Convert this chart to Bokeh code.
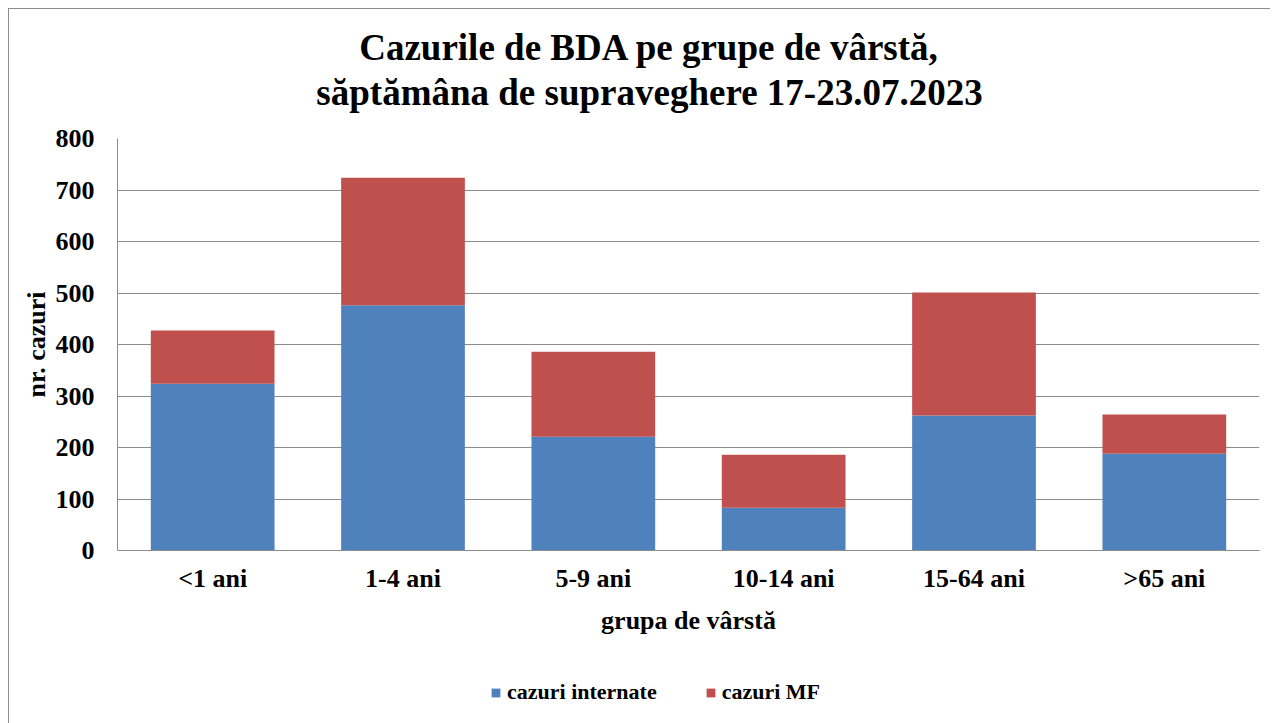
from bokeh.plotting import figure
from bokeh.models import Label, Legend, LegendItem, ColumnDataSource, FactorRange, FixedTicker, Range1d
from bokeh.layouts import column
from bokeh.embed import file_html
from bokeh.resources import INLINE

categories = ["<1 ani", "1-4 ani", "5-9 ani", "10-14 ani", "15-64 ani", ">65 ani"]
cazuri_internate = [324, 476, 221, 83, 262, 188]
cazuri_mf = [103, 248, 165, 103, 239, 76]
y_ticks = [0, 100, 200, 300, 400, 500, 600, 700, 800]
series_names = ["cazuri internate", "cazuri MF"]
colors = ["#4F81BD", "#C0504D"]
title_lines = ["Cazurile de BDA pe grupe de vârstă,", "săptămâna de supraveghere 17-23.07.2023"]

FONT = "Liberation Serif"
GRID = "#8c8c8c"
W = 1261

# ---- title strip ----
p0 = figure(width=W, height=111, x_range=Range1d(0, 1), y_range=Range1d(0, 1),
            min_border=0, x_axis_location=None, y_axis_location=None,
            output_backend="svg", toolbar_location=None)
p0.grid.grid_line_color = None
p0.outline_line_color = None
for txt, ypos in zip(title_lines, [73, 28]):
    p0.add_layout(Label(x=532, y=ypos, x_units="screen", y_units="screen", text=txt,
                        text_align="center", text_baseline="middle",
                        text_font=FONT, text_font_size="37px", text_font_style="bold",
                        text_color="#000000"))

# ---- chart ----
src = ColumnDataSource(dict(cat=categories, internate=cazuri_internate, mf=cazuri_mf))

p = figure(
    x_range=FactorRange(*categories), y_range=(0, 800),
    frame_width=1142, frame_height=412,
    min_border_left=108, min_border_right=11, min_border_top=18, min_border_bottom=95,
    output_backend="svg", toolbar_location=None,
)
p.vbar_stack(["internate", "mf"], x="cat", width=0.65, color=colors,
             line_color=None, source=src)

p.yaxis.ticker = FixedTicker(ticks=y_ticks)
p.yaxis.axis_label = "nr. cazuri"
p.xaxis.axis_label = "grupa de vârstă"
for ax in (p.xaxis[0], p.yaxis[0]):
    ax.axis_line_color = GRID
    ax.axis_line_width = 1
    ax.major_tick_line_color = None
    ax.minor_tick_line_color = None
    ax.major_tick_out = 0
    ax.major_tick_in = 0
    ax.major_label_text_font = FONT
    ax.major_label_text_font_size = "26px"
    ax.major_label_text_font_style = "bold"
    ax.major_label_text_color = "#000000"
    ax.axis_label_text_font = FONT
    ax.axis_label_text_font_size = "26px"
    ax.axis_label_text_font_style = "bold"
    ax.axis_label_text_color = "#000000"
p.yaxis.major_label_standoff = 23
p.yaxis.axis_label_standoff = 2
p.xaxis.major_label_standoff = 13
p.xaxis.axis_label_standoff = 10

p.xgrid.grid_line_color = None
p.ygrid.grid_line_color = GRID
p.ygrid.grid_line_width = 1
p.outline_line_color = None

# ---- legend strip (same series, drawn outside its visible range; only the legend shows) ----
p2 = figure(width=W, height=78, x_range=FactorRange(*categories), y_range=Range1d(5000, 5001),
            min_border=0, x_axis_location=None, y_axis_location=None,
            output_backend="svg", toolbar_location=None)
p2.grid.grid_line_color = None
p2.outline_line_color = None
leg_r = p2.vbar_stack(["internate", "mf"], x="cat", width=0.65, color=colors,
                      line_color=None, source=src)
items = [LegendItem(label=name, renderers=[r]) for name, r in zip(series_names, leg_r)]
legend = Legend(items=items, orientation="horizontal", location=(373, 18),
                label_text_font=FONT, label_text_font_size="22px", label_text_font_style="bold",
                label_text_color="#000000", glyph_width=11, glyph_height=11,
                label_standoff=6, spacing=48, padding=0, margin=0,
                border_line_color=None, background_fill_alpha=0)
p2.add_layout(legend, "center")

layout = column(p0, p, p2, spacing=0)
layout.styles = {"margin-left": "8px", "margin-top": "8px",
                 "border-left": "1px solid #8c8c8c", "border-top": "1px solid #8c8c8c"}

open("out.html", "w").write(file_html(layout, INLINE))
